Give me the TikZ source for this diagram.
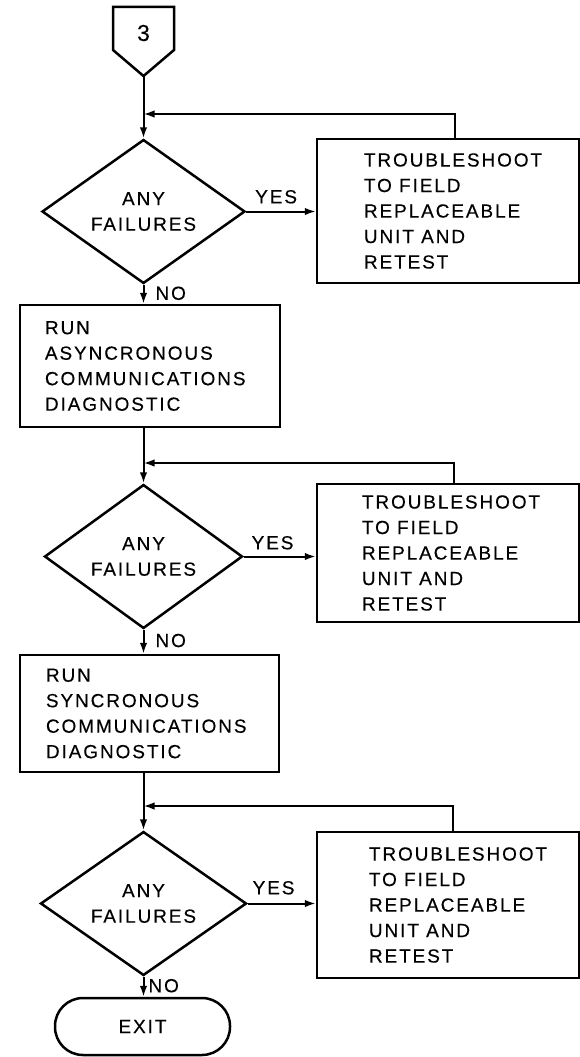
\documentclass[tikz,border=0pt]{standalone}
\usepackage{fontspec}
\newfontfamily\lbl[LetterSpace=10,FakeBold=0.3]{Liberation Sans}
\usetikzlibrary{shapes.geometric,arrows.meta,calc}
\begin{document}
\begin{tikzpicture}[x=1pt,y=-1pt,
  every node/.style={font={\lbl\fontsize{19}{25.5}\selectfont}, inner sep=0pt},
  ln/.style={line width=2pt},
  arr/.style={ln,-{Latex[length=11pt,width=7.5pt]}},
  box/.style={draw, line width=2.5pt, rectangle, minimum width=#1},
  dec/.style={draw, line width=2.5pt, diamond, align=center},
  lab/.style={align=left, anchor=west},
]
\useasboundingbox (0,0) rectangle (580,1057);
% off-page connector
\draw[line width=2.5pt, line join=miter] (113,7) -- (174,7) -- (174,50) -- (143.5,76) -- (113,50) -- cycle;
\node[font={\lbl\fontsize{23}{26}\selectfont}] (c3) at (143.5,33) {3};
\coordinate (c3tip) at (143.5,76);
% junctions
\coordinate (j1) at (143.5,114);
\coordinate (j2) at (143.5,463);
\coordinate (j3) at (143.5,806);
% group 1
\node[dec, minimum width=203pt, minimum height=117pt] (d1) at (143.5,211.5) {ANY\\FAILURES};
\node[box=262pt, minimum height=144pt] (t1) at (448,211) {};
\node[lab] (t1l) at ([xshift=48pt]t1.west) {TROUBLESHOOT\\TO FIELD\\REPLACEABLE\\UNIT AND\\RETEST};
\node[box=260pt, minimum height=122pt] (r1) at (150,366) {};
\node[lab] (r1l) at ([xshift=26pt]r1.west) {RUN\\ASYNCRONOUS\\COMMUNICATIONS\\DIAGNOSTIC};
% group 2
\node[dec, minimum width=198pt, minimum height=113pt] (d2) at (143.5,556.5) {ANY\\FAILURES};
\node[box=262pt, minimum height=138pt] (t2) at (448,553) {};
\node[lab] (t2l) at ([xshift=46pt]t2.west) {TROUBLESHOOT\\TO FIELD\\REPLACEABLE\\UNIT AND\\RETEST};
\node[box=259pt, minimum height=117pt] (r2) at (149.5,713.5) {};
\node[lab] (r2l) at ([xshift=27pt]r2.west) {RUN\\SYNCRONOUS\\COMMUNICATIONS\\DIAGNOSTIC};
% group 3
\node[dec, minimum width=206pt, minimum height=117pt] (d3) at (143.5,903.5) {ANY\\FAILURES};
\node[box=262pt, minimum height=146pt] (t3) at (448,905) {};
\node[lab] (t3l) at ([xshift=53pt]t3.west) {TROUBLESHOOT\\TO FIELD\\REPLACEABLE\\UNIT AND\\RETEST};
\node[draw, line width=2.5pt, rectangle, rounded corners=28pt, minimum width=175pt, minimum height=57pt] (exit) at (142.5,1026.5) {EXIT};
% connectors
\draw[arr] (c3tip) -- (d1.north);
\draw[arr] ($(t1.north west)+(139,0)$) |- (j1);
\draw[arr] (d1.east) -- (d1.east -| t1.west) node[pos=0.43, above=7pt] (y1) {YES};
\draw[arr] (d1.south) -- (d1.south |- r1.north) node[pos=0.45, right=11pt] (n1) {NO};
\draw[arr] (r1.south -| d2.north) -- (d2.north);
\draw[arr] ($(t2.north west)+(138,0)$) |- (j2);
\draw[arr] (d2.east) -- (d2.east -| t2.west) node[pos=0.4, above=6pt] (y2) {YES};
\draw[arr] (d2.south) -- (d2.south |- r2.north) node[pos=0.45, right=11pt] (n2) {NO};
\draw[arr] (r2.south -| d3.north) -- (d3.north);
\draw[arr] ($(t3.north west)+(137,0)$) |- (j3);
\draw[arr] (d3.east) -- (d3.east -| t3.west) node[pos=0.38, above=8pt] (y3) {YES};
\draw[arr] (d3.south) -- (d3.south |- exit.north) node[pos=0.45, right=4pt] (n3) {NO};
\end{tikzpicture}
\end{document}
